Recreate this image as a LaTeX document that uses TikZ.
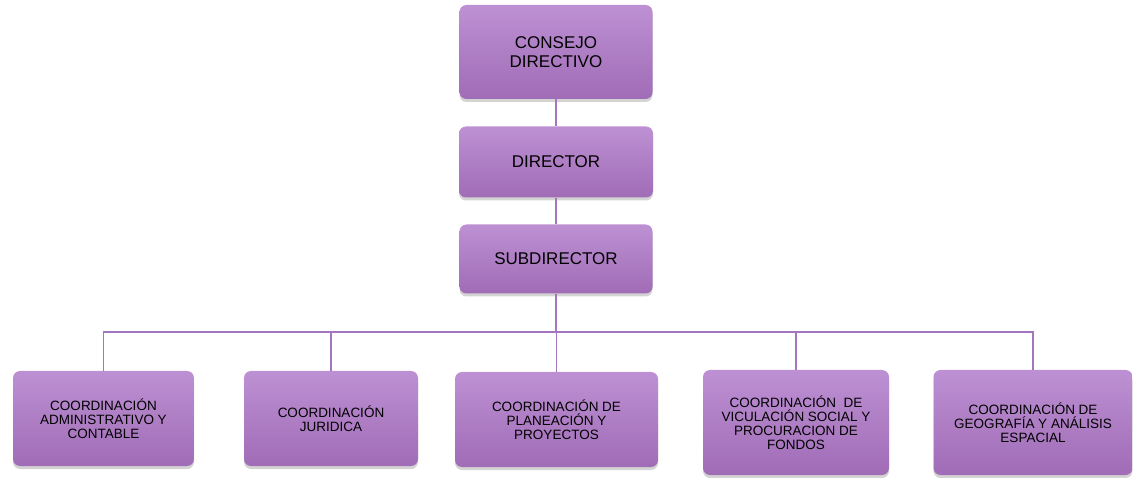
\documentclass[tikz,border=0pt]{standalone}
\usepackage{fontspec}
\setmainfont{Liberation Sans}
\usetikzlibrary{shadows}
\definecolor{boxtop}{RGB}{189,144,211}
\definecolor{boxbot}{RGB}{160,108,182}
\definecolor{linkcol}{RGB}{165,118,192}

\begin{document}
\begin{tikzpicture}[x=1pt, y=-1pt,
	cargo/.style={rectangle, rounded corners=7pt, top color=boxtop, bottom color=boxbot, draw=none,
		drop shadow={shadow xshift=0pt, shadow yshift=-3pt, opacity=0.35},
		align=center, inner sep=0pt, font=\fontsize{17}{18.5}\selectfont},
	coord/.style={cargo, font=\fontsize{13.5}{14}\selectfont},
	link/.style={draw=linkcol, line width=1.4pt}]
				\useasboundingbox (0,0) rectangle (1133,478);
				\node[cargo, minimum width=193pt, minimum height=94pt] (consejo) at (556,52) {CONSEJO\\DIRECTIVO};
				\node[cargo, minimum width=194pt, minimum height=71pt] (director) at (556,162) {DIRECTOR};
				\node[cargo, minimum width=193pt, minimum height=69pt] (subdirector) at (556,259) {SUBDIRECTOR};
				\node[coord, minimum width=181pt, minimum height=95pt] (admin) at (103.5,418.5) {COORDINACIÓN\\ADMINISTRATIVO Y\\CONTABLE};
				\node[coord, minimum width=174pt, minimum height=95pt] (juridica) at (331,418.5) {COORDINACIÓN\\JURIDICA};
				\node[coord, minimum width=203pt, minimum height=95pt] (planeacion) at (556.5,419.5) {COORDINACIÓN DE\\PLANEACIÓN Y\\PROYECTOS};
				\node[coord, minimum width=186pt, minimum height=105pt] (vinculacion) at (796,422.5) {COORDINACIÓN~ DE\\VICULACIÓN SOCIAL Y\\PROCURACION DE\\FONDOS};
				\node[coord, minimum width=199pt, minimum height=105pt] (geografia) at (1033,422.5) {COORDINACIÓN DE\\GEOGRAFÍA Y ANÁLISIS\\ESPACIAL};
				\coordinate (bus) at (556,332);
				\draw[link] (consejo) -- (director);
				\draw[link] (director) -- (subdirector);
				\draw[link] (subdirector) -- (bus);
				\foreach \n in {admin, juridica, planeacion, vinculacion, geografia}
					\draw[link] (\n.north) |- (bus);
\end{tikzpicture}
\end{document}
